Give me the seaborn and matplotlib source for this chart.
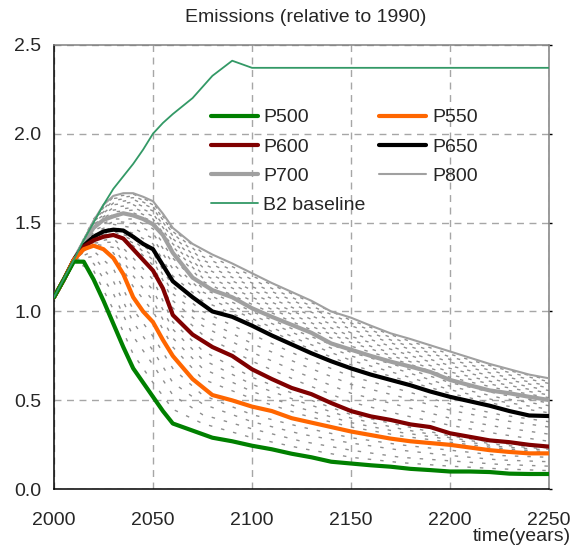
import matplotlib
matplotlib.use("Agg")
import matplotlib.pyplot as plt
from matplotlib.lines import Line2D
import seaborn as sns

# years for the named pathways and the baseline
years = [2000, 2005, 2010, 2015, 2020, 2025, 2030, 2035, 2040, 2045, 2050, 2055, 2060,
         2070, 2080, 2090, 2100, 2110, 2120, 2130, 2140, 2150, 2160, 2170, 2180, 2190,
         2200, 2210, 2220, 2230, 2240, 2250]

p500 = [1.08, 1.18, 1.28, 1.28, 1.18, 1.06, 0.93, 0.80, 0.68, 0.60, 0.52, 0.44, 0.37,
        0.33, 0.29, 0.27, 0.245, 0.225, 0.20, 0.18, 0.155, 0.145, 0.135, 0.127, 0.115, 0.108,
        0.10, 0.10, 0.097, 0.088, 0.086, 0.086]
p550 = [1.08, 1.18, 1.29, 1.35, 1.37, 1.35, 1.30, 1.21, 1.08, 1.00, 0.94, 0.84, 0.75,
        0.62, 0.53, 0.50, 0.465, 0.44, 0.40, 0.375, 0.35, 0.325, 0.305, 0.285, 0.27, 0.26,
        0.25, 0.235, 0.22, 0.21, 0.202, 0.202]
p600 = [1.08, 1.18, 1.29, 1.365, 1.40, 1.42, 1.43, 1.41, 1.35, 1.29, 1.23, 1.13, 0.98,
        0.87, 0.80, 0.75, 0.675, 0.62, 0.57, 0.535, 0.485, 0.44, 0.41, 0.39, 0.365, 0.35,
        0.315, 0.295, 0.275, 0.265, 0.25, 0.24]
p650 = [1.08, 1.18, 1.29, 1.37, 1.42, 1.45, 1.46, 1.455, 1.42, 1.38, 1.35, 1.26, 1.17,
        1.08, 1.00, 0.97, 0.92, 0.865, 0.815, 0.765, 0.72, 0.68, 0.645, 0.615, 0.585, 0.55,
        0.52, 0.495, 0.47, 0.44, 0.415, 0.412]
p700 = [1.08, 1.18, 1.29, 1.39, 1.47, 1.515, 1.535, 1.552, 1.54, 1.52, 1.49, 1.43, 1.33,
        1.19, 1.12, 1.08, 1.018, 0.97, 0.925, 0.88, 0.82, 0.785, 0.75, 0.718, 0.69, 0.66,
        0.615, 0.585, 0.556, 0.54, 0.52, 0.502]
p800 = [1.08, 1.18, 1.29, 1.40, 1.51, 1.60, 1.65, 1.665, 1.665, 1.645, 1.62, 1.55, 1.47,
        1.38, 1.32, 1.27, 1.215, 1.16, 1.11, 1.06, 1.00, 0.965, 0.92, 0.877, 0.845, 0.81,
        0.775, 0.74, 0.705, 0.675, 0.645, 0.624]
b2_baseline = [1.08, 1.185, 1.29, 1.40, 1.50, 1.60, 1.69, 1.76, 1.83, 1.91, 2.00, 2.06, 2.11,
               2.20, 2.325, 2.41, 2.37, 2.37, 2.37, 2.37, 2.37, 2.37, 2.37, 2.37, 2.37, 2.37,
               2.37, 2.37, 2.37, 2.37, 2.37, 2.37]

# intermediate pathways (dotted), read on a coarser grid
years_coarse = [2000, 2010, 2020, 2030, 2040, 2050, 2060, 2075, 2100, 2125, 2150, 2175, 2200, 2225, 2250]

p510 = [1.08, 1.28, 1.23, 1.01, 0.76, 0.60, 0.45, 0.37, 0.29, 0.23, 0.18, 0.15, 0.13, 0.115, 0.105]
p520 = [1.08, 1.28, 1.27, 1.10, 0.86, 0.70, 0.53, 0.42, 0.34, 0.27, 0.22, 0.18, 0.16, 0.14, 0.13]
p530 = [1.08, 1.29, 1.31, 1.17, 0.94, 0.78, 0.60, 0.48, 0.38, 0.31, 0.26, 0.22, 0.19, 0.165, 0.155]
p540 = [1.08, 1.29, 1.34, 1.24, 1.01, 0.86, 0.68, 0.53, 0.42, 0.35, 0.29, 0.25, 0.22, 0.19, 0.18]
p560 = [1.08, 1.29, 1.375, 1.33, 1.14, 1.00, 0.80, 0.62, 0.51, 0.42, 0.35, 0.30, 0.265, 0.23, 0.21]
p570 = [1.08, 1.29, 1.38, 1.36, 1.20, 1.06, 0.85, 0.68, 0.55, 0.455, 0.375, 0.32, 0.28, 0.24, 0.22]
p580 = [1.08, 1.29, 1.385, 1.39, 1.25, 1.12, 0.90, 0.73, 0.59, 0.49, 0.40, 0.34, 0.29, 0.25, 0.225]
p590 = [1.08, 1.29, 1.39, 1.41, 1.30, 1.18, 0.94, 0.78, 0.63, 0.52, 0.42, 0.36, 0.30, 0.26, 0.232]
p610 = [1.08, 1.29, 1.40, 1.435, 1.37, 1.26, 1.02, 0.87, 0.72, 0.60, 0.49, 0.42, 0.36, 0.31, 0.27]
p620 = [1.08, 1.29, 1.405, 1.44, 1.385, 1.29, 1.06, 0.92, 0.77, 0.65, 0.54, 0.47, 0.40, 0.35, 0.31]
p630 = [1.08, 1.29, 1.41, 1.45, 1.40, 1.31, 1.10, 0.96, 0.82, 0.70, 0.59, 0.52, 0.445, 0.39, 0.35]
p640 = [1.08, 1.29, 1.415, 1.455, 1.41, 1.33, 1.14, 1.00, 0.87, 0.745, 0.635, 0.56, 0.48, 0.42, 0.38]
p660 = [1.08, 1.29, 1.43, 1.475, 1.44, 1.38, 1.20, 1.06, 0.94, 0.81, 0.70, 0.62, 0.54, 0.475, 0.43]
p670 = [1.08, 1.30, 1.445, 1.49, 1.47, 1.41, 1.24, 1.09, 0.96, 0.835, 0.725, 0.645, 0.56, 0.495, 0.45]
p680 = [1.08, 1.30, 1.455, 1.505, 1.50, 1.44, 1.27, 1.11, 0.98, 0.86, 0.75, 0.67, 0.58, 0.515, 0.47]
p690 = [1.08, 1.30, 1.47, 1.52, 1.52, 1.465, 1.30, 1.13, 1.00, 0.88, 0.77, 0.69, 0.60, 0.535, 0.485]
p710 = [1.08, 1.30, 1.485, 1.545, 1.555, 1.505, 1.35, 1.17, 1.04, 0.92, 0.805, 0.72, 0.63, 0.565, 0.515]
p720 = [1.08, 1.30, 1.49, 1.56, 1.57, 1.52, 1.365, 1.19, 1.06, 0.94, 0.825, 0.735, 0.645, 0.58, 0.53]
p730 = [1.08, 1.30, 1.495, 1.57, 1.585, 1.535, 1.38, 1.21, 1.08, 0.96, 0.84, 0.75, 0.66, 0.595, 0.54]
p740 = [1.08, 1.30, 1.50, 1.585, 1.60, 1.55, 1.395, 1.23, 1.10, 0.98, 0.86, 0.77, 0.68, 0.61, 0.555]
p750 = [1.08, 1.30, 1.505, 1.60, 1.615, 1.565, 1.41, 1.25, 1.12, 1.00, 0.88, 0.785, 0.695, 0.625, 0.57]
p760 = [1.08, 1.30, 1.51, 1.61, 1.63, 1.58, 1.425, 1.27, 1.14, 1.02, 0.90, 0.805, 0.715, 0.64, 0.58]
p770 = [1.08, 1.30, 1.51, 1.625, 1.64, 1.59, 1.44, 1.29, 1.16, 1.04, 0.92, 0.82, 0.73, 0.655, 0.595]
p780 = [1.08, 1.30, 1.515, 1.635, 1.65, 1.60, 1.45, 1.31, 1.18, 1.055, 0.935, 0.835, 0.745, 0.67, 0.605]
p790 = [1.08, 1.30, 1.52, 1.645, 1.66, 1.61, 1.46, 1.33, 1.20, 1.075, 0.95, 0.85, 0.76, 0.68, 0.615]

dotted_paths = [p510, p520, p530, p540, p560, p570, p580, p590, p610, p620, p630, p640,
                p660, p670, p680, p690, p710, p720, p730, p740, p750, p760, p770, p780, p790]

sns.set_style("white")
plt.rcParams["font.family"] = ["Liberation Sans", "DejaVu Sans"]

fig = plt.figure(figsize=(5.75, 5.54), dpi=100)
ax = fig.add_axes([0.0939, 0.1168, 0.8609, 0.8025])

# the family of intermediate pathways
for i, vals in enumerate(dotted_paths):
    sns.lineplot(x=years_coarse, y=vals, ax=ax, color="#8f8f8f", lw=1.0,
                 linestyle=(i % 4 * 2.0, (2.5, 6.5)), errorbar=None, zorder=2)

# named pathways
named = [
    ("P800", p800, "#a0a0a0", 1.5),
    ("P700", p700, "#a0a0a0", 3.0),
    ("P650", p650, "black", 3.0),
    ("P600", p600, "#800000", 3.0),
    ("P550", p550, "#ff6600", 3.0),
    ("P500", p500, "#008000", 3.0),
    ("B2 baseline", b2_baseline, "#339966", 1.3),
]
lookup = {}
for label, vals, col, w in named:
    sns.lineplot(x=years, y=vals, ax=ax, color=col, lw=w, errorbar=None, zorder=3)
    lookup[label] = Line2D([], [], color=col, lw=w)

ax.set_xlim(2000, 2250)
ax.set_ylim(0, 2.5)
ax.set_xticks([2000, 2050, 2100, 2150, 2200, 2250])
ax.set_yticks([0.0, 0.5, 1.0, 1.5, 2.0, 2.5])
ax.set_yticklabels([f"{v:.1f}" for v in [0.0, 0.5, 1.0, 1.5, 2.0, 2.5]])

ax.grid(True, color="#a6a6a6", linestyle=(0, (5, 4)), lw=1)
ax.set_axisbelow(True)

for side in ["left", "bottom"]:
    ax.spines[side].set_color("black")
    ax.spines[side].set_linewidth(1.1)
for side in ["top", "right"]:
    ax.spines[side].set_color("#808080")
    ax.spines[side].set_linewidth(1.1)

ax.tick_params(axis="both", direction="out", length=4, width=1, labelsize=14, color="black")
ax.tick_params(axis="y", pad=5, right=True)
ax.tick_params(axis="x", pad=12)
for t in ax.yaxis.get_major_ticks():
    t.tick2line.set_color("#808080")
    t.tick2line.set_markersize(2.5)

ax.set_title("Emissions (relative to 1990)", fontsize=14, pad=16, x=0.509)
ax.set_xlabel("time(years)", fontsize=14, loc="right")
ax.xaxis.set_label_coords(1.045, -0.087)
ax.set_ylabel("")

order = ["P500", "P600", "P700", "B2 baseline", "P550", "P650", "P800"]
ax.legend([lookup[k] for k in order], order, ncol=2, loc="upper left",
          bbox_to_anchor=(0.317, 0.856), frameon=False, fontsize=14,
          handlelength=2.4, handletextpad=0.3, columnspacing=0.7,
          labelspacing=0.6, borderpad=0, borderaxespad=0)

fig.savefig("out.png", dpi=100)
